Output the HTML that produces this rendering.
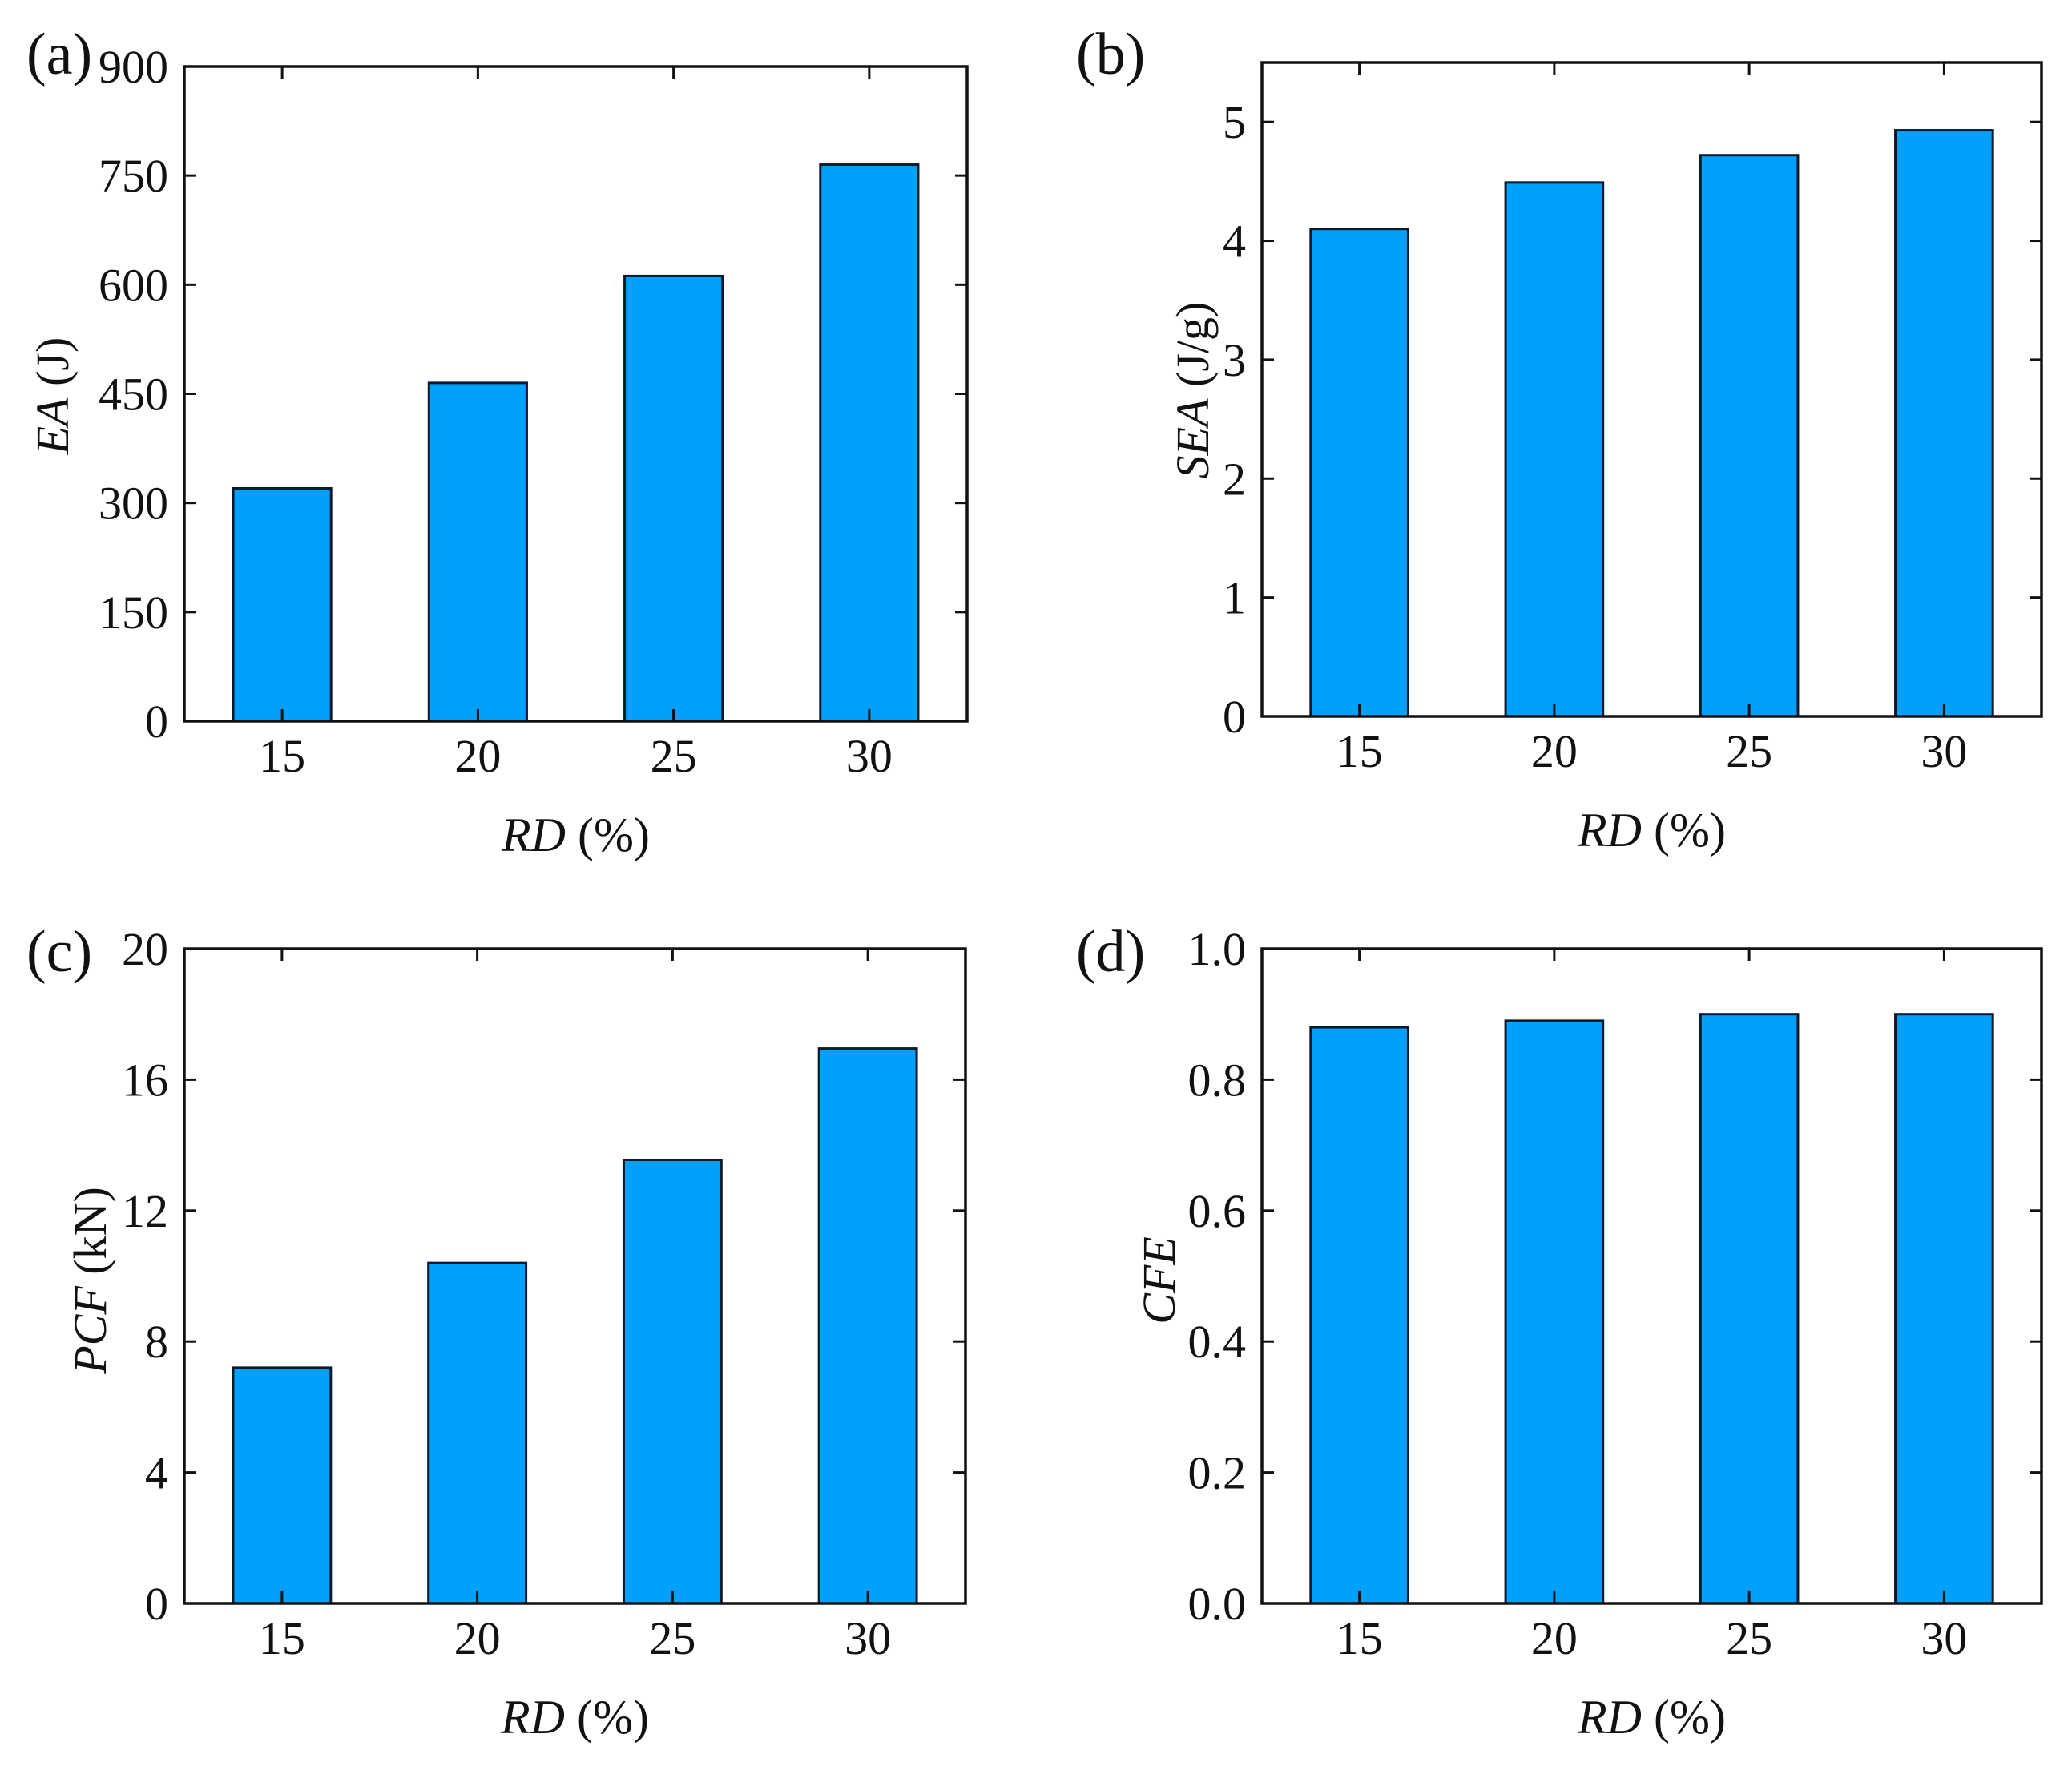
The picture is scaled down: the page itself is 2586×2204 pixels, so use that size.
<!DOCTYPE html>
<html><head><meta charset="utf-8">
<style>
html,body{margin:0;padding:0;background:#fff;}
svg{display:block;font-family:"Liberation Serif","Times New Roman",serif;}
</style></head>
<body>
<svg id="fig" width="2586" height="2204" viewBox="0 0 2586 2204" xmlns="http://www.w3.org/2000/svg"></svg>
<script>
const categories = ["15","20","25","30"];
const eaValues = [320, 465, 612, 765];
const seaValues = [4.10, 4.49, 4.72, 4.93];
const pcfValues = [7.2, 10.4, 13.55, 16.95];
const cfeValues = [0.88, 0.89, 0.90, 0.90];
const eaTicks = ["0","150","300","450","600","750","900"];
const seaTicks = ["0","1","2","3","4","5"];
const pcfTicks = ["0","4","8","12","16","20"];
const cfeTicks = ["0.0","0.2","0.4","0.6","0.8","1.0"];

const NS = "http://www.w3.org/2000/svg";
const svg = document.getElementById("fig");
function mk(tag, attrs, parent){
  const e = document.createElementNS(NS, tag);
  for (const k in attrs) e.setAttribute(k, attrs[k]);
  (parent||svg).appendChild(e);
  return e;
}

const panels = [
  {id:"a", label:"(a)", title:"EA", unit:" (J)", vals:eaValues, ticks:eaTicks, ymax:900,
   L:230, R:1207, T:83, B:900, lx:33, ly:92, tx:85, ty:494},
  {id:"b", label:"(b)", title:"SEA", unit:" (J/g)", vals:seaValues, ticks:seaTicks, ymax:5.5,
   L:1575, R:2548, T:78, B:894, lx:1343, ly:92, tx:1508, ty:487},
  {id:"c", label:"(c)", title:"PCF", unit:" (kN)", vals:pcfValues, ticks:pcfTicks, ymax:20,
   L:230, R:1205, T:1184, B:2001, lx:33, ly:1212, tx:132, ty:1598},
  {id:"d", label:"(d)", title:"CFE", unit:"", vals:cfeValues, ticks:cfeTicks, ymax:1.0,
   L:1575, R:2548, T:1184, B:2001, lx:1343, ly:1212, tx:1466, ty:1598}
];

panels.forEach(p => {
  const g = mk("g", {});
  
  
  const n = categories.length;
  const step = (p.R - p.L) / n;
  const xPos = i => p.L + step * (i + 0.5);
  const yPos = v => p.B - (v / p.ymax) * (p.B - p.T);
  const bw = step * 0.5;

  p.vals.forEach((v, i) => {
    const r = mk("rect", {x: xPos(i) - bw/2, y: yPos(v), width: bw, height: p.B - yPos(v),
      fill: "#00a0fc", stroke: "#0a1a2a", "stroke-width": 3}, g);
    
    
  });

  const fr = mk("rect", {x:p.L, y:p.T, width:p.R-p.L, height:p.B-p.T, fill:"none", stroke:"#111", "stroke-width":3.5}, g);
  
  

  p.ticks.forEach(t => {
    const y = yPos(parseFloat(t));
    mk("line", {x1:p.L, x2:p.L+15, y1:y, y2:y, stroke:"#111", "stroke-width":3}, g);
    mk("line", {x1:p.R, x2:p.R-15, y1:y, y2:y, stroke:"#111", "stroke-width":3}, g);
    const tx = mk("text", {x:p.L-20, y:y+20, "text-anchor":"end", "font-size":58, fill:"#111"}, g);
    tx.textContent = t;
    
    
  });

  categories.forEach((c, i) => {
    const x = xPos(i);
    mk("line", {x1:x, x2:x, y1:p.T, y2:p.T+15, stroke:"#111", "stroke-width":3}, g);
    mk("line", {x1:x, x2:x, y1:p.B, y2:p.B-15, stroke:"#111", "stroke-width":3}, g);
    const tx = mk("text", {x:x, y:p.B+63, "text-anchor":"middle", "font-size":58, fill:"#111"}, g);
    tx.textContent = c;
    
    
  });

  const xt = mk("text", {x:(p.L+p.R)/2, y:p.B+162, "text-anchor":"middle", "font-size":60, fill:"#111"}, g);
  
  
  const xi = mk("tspan", {"font-style":"italic"}, xt); xi.textContent = "RD";
  const xu = mk("tspan", {}, xt); xu.textContent = " (%)";

  const yt = mk("text", {x:0, y:0, "text-anchor":"middle", "font-size":58, fill:"#111",
    transform:"translate(" + p.tx + "," + p.ty + ") rotate(-90)"}, g);
  
  
  const yi = mk("tspan", {"font-style":"italic"}, yt); yi.textContent = p.title;
  if (p.unit) { const yu = mk("tspan", {}, yt); yu.textContent = p.unit; }

  const pl = mk("text", {x:p.lx, y:p.ly, "font-size":74, fill:"#111"}, g);
  pl.textContent = p.label;
  
  
});
</script>
</body></html>
